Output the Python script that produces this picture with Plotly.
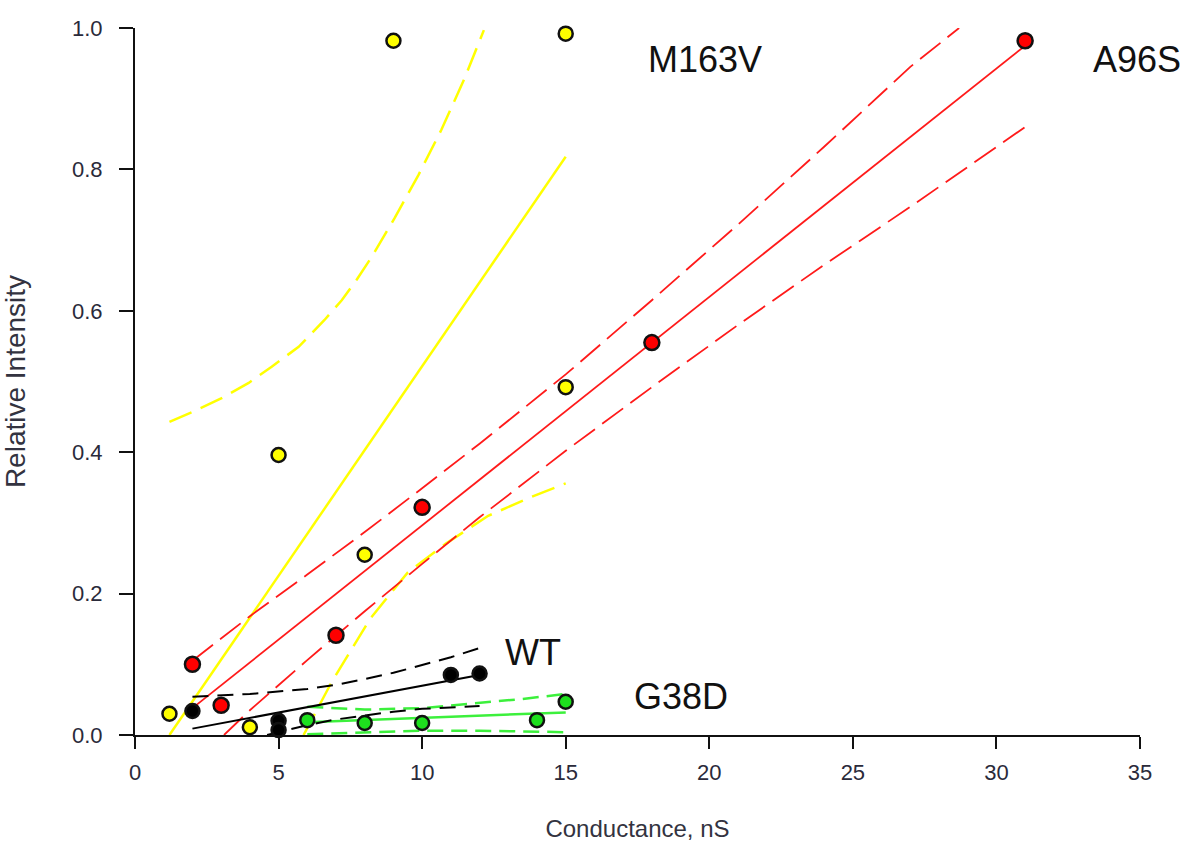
import plotly.graph_objects as go

# ---------------- data points ----------------
a96s_x = [2, 3, 7, 10, 18, 31]
a96s_y = [0.100, 0.042, 0.141, 0.322, 0.555, 0.982]

m163v_x = [1.2, 4, 5, 8, 9, 15, 15]
m163v_y = [0.030, 0.011, 0.396, 0.255, 0.982, 0.992, 0.492]

wt_x = [2, 5, 5, 11, 12]
wt_y = [0.034, 0.020, 0.007, 0.085, 0.087]

g38d_x = [6, 8, 10, 14, 15]
g38d_y = [0.021, 0.017, 0.017, 0.021, 0.047]

# ---------------- fitted lines and 95% bands ----------------
a96s_fit_x = [2, 31]
a96s_fit_y = [0.038, 0.975]
a96s_up_x = [2, 4, 6, 8, 10, 12, 15, 18, 21, 24, 27, 28.7]
a96s_up_y = [0.105, 0.168, 0.227, 0.287, 0.349, 0.412, 0.510, 0.615, 0.722, 0.832, 0.945, 1.0]
a96s_lo_x = [3.1, 4, 6, 8, 10, 12, 15, 18, 21, 24, 27, 31]
a96s_lo_y = [0.0, 0.035, 0.106, 0.175, 0.242, 0.308, 0.402, 0.492, 0.580, 0.665, 0.747, 0.860]

m163v_fit_x = [1.2, 15]
m163v_fit_y = [0.0, 0.818]
m163v_up_x = [1.2, 2.0, 3.0, 3.96, 4.76, 5.7, 6.6, 7.2, 7.72, 8.24, 9.04, 9.87, 10.67, 11.47, 12.15]
m163v_up_y = [0.443, 0.457, 0.476, 0.498, 0.521, 0.549, 0.587, 0.615, 0.644, 0.676, 0.731, 0.792, 0.856, 0.928, 0.997]
m163v_lo_x = [5.87, 6.85, 8.2, 9.5, 10.8, 12.3, 13.7, 15]
m163v_lo_y = [0.0, 0.075, 0.165, 0.230, 0.270, 0.310, 0.335, 0.356]

wt_fit_x = [2, 12]
wt_fit_y = [0.009, 0.085]
wt_up_x = [2, 4, 6, 7, 8, 9, 10, 11, 12]
wt_up_y = [0.054, 0.058, 0.065, 0.071, 0.079, 0.088, 0.099, 0.110, 0.123]
wt_lo_x = [4.6, 6, 7, 8, 9, 10, 11, 12]
wt_lo_y = [0.0, 0.014, 0.022, 0.028, 0.033, 0.037, 0.039, 0.041]

g38d_fit_x = [6, 15]
g38d_fit_y = [0.018, 0.032]
g38d_up_x = [6, 8, 10, 12, 13.5, 15]
g38d_up_y = [0.040, 0.036, 0.038, 0.045, 0.051, 0.058]
g38d_lo_x = [6, 8, 10, 12, 13.5, 15]
g38d_lo_y = [0.001, 0.004, 0.006, 0.006, 0.005, 0.004]

# ---------------- labels ----------------
labels = ["M163V", "A96S", "WT", "G38D"]
label_x = [19.85, 34.9, 13.85, 19.0]
label_y = [0.955, 0.955, 0.117, 0.054]

x_ticks = [0, 5, 10, 15, 20, 25, 30, 35]
y_ticks = [0.0, 0.2, 0.4, 0.6, 0.8, 1.0]

RED = "#ff1a1a"
YEL = "#ffff00"
BLK = "#000000"
GRN_L = "#3cf03c"
GRN_M = "#1ee01e"

fig = go.Figure()

def add_line(x, y, color, dash, width=2):
    fig.add_trace(go.Scatter(x=x, y=y, mode="lines",
                             line=dict(color=color, width=width, dash=dash),
                             hoverinfo="skip", showlegend=False))

# yellow
add_line(m163v_fit_x, m163v_fit_y, YEL, "solid", 2.5)
add_line(m163v_up_x, m163v_up_y, YEL, "24px,10px", 2.5)
add_line(m163v_lo_x, m163v_lo_y, YEL, "24px,10px", 2.5)
# red
add_line(a96s_fit_x, a96s_fit_y, RED, "solid", 1.8)
add_line(a96s_up_x, a96s_up_y, RED, "26px,9px", 1.8)
add_line(a96s_lo_x, a96s_lo_y, RED, "26px,9px", 1.8)
# green
add_line(g38d_fit_x, g38d_fit_y, GRN_L, "solid", 2.5)
add_line(g38d_up_x, g38d_up_y, GRN_L, "16px,8px", 2.5)
add_line(g38d_lo_x, g38d_lo_y, GRN_L, "16px,8px", 2.5)
# black
add_line(wt_fit_x, wt_fit_y, BLK, "solid", 2)
add_line(wt_up_x, wt_up_y, BLK, "16px,9px", 2)
add_line(wt_lo_x, wt_lo_y, BLK, "16px,9px", 2)

def add_pts(x, y, color, size=14):
    fig.add_trace(go.Scatter(x=x, y=y, mode="markers", cliponaxis=False,
                             marker=dict(color=color, size=size,
                                         line=dict(color="#111111", width=2.5)),
                             showlegend=False))

add_pts(g38d_x, g38d_y, GRN_M)
add_pts(wt_x, wt_y, BLK)
add_pts(m163v_x, m163v_y, YEL)
add_pts(a96s_x, a96s_y, "#ff0000", 15)

FONT = "Liberation Sans, Arial, sans-serif"

for t, lx, ly in zip(labels, label_x, label_y):
    fig.add_annotation(x=lx, y=ly, xref="x", yref="y", text=t, showarrow=False,
                       xanchor="center", yanchor="middle",
                       font=dict(family=FONT, size=36, color="#111111"))

fig.update_layout(
    width=1188, height=850,
    margin=dict(l=133, r=48, t=28, b=115),
    paper_bgcolor="white", plot_bgcolor="white",
    font=dict(family=FONT, color="#222222"),
    xaxis=dict(range=[0, 35], tickvals=x_ticks, ticktext=[str(v) for v in x_ticks],
               showline=True, linecolor="#111111", linewidth=2, mirror=False,
               ticks="outside", ticklen=12, tickwidth=2, tickcolor="#111111",
               showgrid=False, zeroline=False, tickfont=dict(size=22, color="#2a2a3a"),
               ticklabelstandoff=5,
               title=dict(text="Conductance, nS", font=dict(size=24, color="#333340"), standoff=36)),
    yaxis=dict(range=[0, 1], tickvals=y_ticks, ticktext=[f"{v:.1f}" for v in y_ticks],
               showline=True, linecolor="#111111", linewidth=2, mirror=False,
               ticks="outside", ticklen=14, tickwidth=2, tickcolor="#111111",
               showgrid=False, zeroline=False, tickfont=dict(size=22, color="#2a2a3a"),
               ticklabelstandoff=12,
               title=dict(text="Relative Intensity", font=dict(size=28, color="#333340"), standoff=40)),
)

fig.write_html("out.html")
